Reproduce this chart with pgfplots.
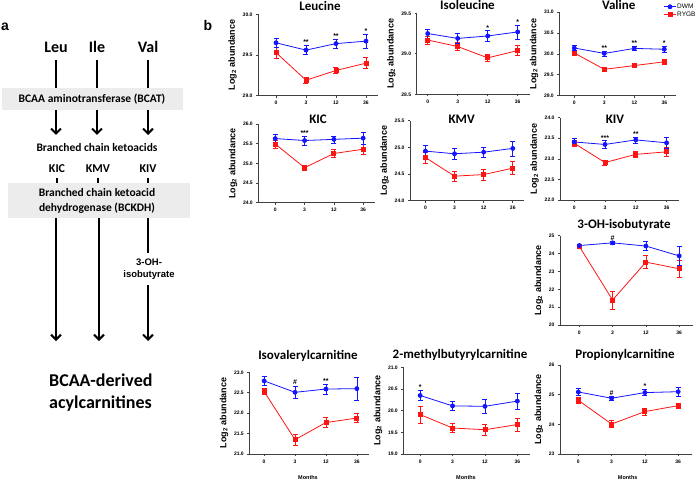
\documentclass[border=0pt]{standalone}
\usepackage{fontspec}
\setmainfont{Liberation Sans}
\newfontfamily\carl{Carlito}
\usepackage{pgfplots}
\pgfplotsset{compat=1.18}
\usetikzlibrary{arrows.meta}
\definecolor{dblue}{RGB}{20,20,255}
\definecolor{rred}{RGB}{255,20,20}
\definecolor{boxgray}{RGB}{236,236,236}
\pgfplotsset{
 gp/.style={
  scale only axis, anchor=north west,
  axis x line=bottom, axis y line=left,
  axis line style={-, line width=0.6pt, black!75},
  xtick={0,1,2,3}, xticklabels={0,3,12,36}, xmax=3.4,
  tick align=outside, major tick length=2pt,
  tick style={line width=0.6pt, black!75},
  ticklabel style={font=\fontsize{5}{6}\selectfont\bfseries},
  /pgf/number format/assume math mode=true,
  yticklabel style={/pgf/number format/.cd, fixed, fixed zerofill, precision=1},
  ylabel={Log\textsubscript{2} abundance},
  ylabel style={font=\fontsize{9}{10}\selectfont\bfseries, yshift=-1pt},
  clip=false,
 },
 gpint/.style={yticklabel style={/pgf/number format/.cd, fixed, precision=0}},
 dwm/.style={color=dblue, line width=0.8pt, mark=*, mark size=2pt, mark options={solid},
   error bars/.cd, y dir=both, y explicit,
   error bar style={line width=0.6pt, color=dblue},
   error mark options={rotate=90, mark size=2.5pt, line width=0.6pt, color=dblue}},
 rygb/.style={color=rred, line width=0.8pt, mark=square*, mark size=2pt, mark options={solid},
   error bars/.cd, y dir=both, y explicit,
   error bar style={line width=0.6pt, color=rred},
   error mark options={rotate=90, mark size=2.5pt, line width=0.6pt, color=rred}},
}
\tikzset{
 star/.style={anchor=south, inner sep=0.3pt, font=\fontsize{7}{7}\selectfont\bfseries},
 ttl/.style={anchor=base, inner sep=0pt, font=\carl\bfseries\fontsize{13}{14}\selectfont},
 mon/.style={anchor=base, inner sep=0pt, font=\fontsize{5.5}{6}\selectfont\bfseries},
 dg/.style={inner sep=0pt, font=\carl\bfseries\fontsize{11.5}{12}\selectfont},
}
\begin{document}
\begin{tikzpicture}[x=1pt,y=1pt]
\useasboundingbox (0,0) rectangle (697,483);

% ---------- Leucine
\begin{axis}[gp, at={(258pt,468.7pt)}, width=120pt, height=81.4pt, xmin=-0.6, ymin=29, ymax=30, ytick={29,29.5,30}]
\addplot[rygb] table[x=x,y=y,y error=e,row sep=\\] {x y e\\ 0 29.53 0.07\\ 1 29.19 0.035\\ 2 29.31 0.04\\ 3 29.40 0.068\\};
\addplot[dwm] table[x=x,y=y,y error=e,row sep=\\] {x y e\\ 0 29.65 0.06\\ 1 29.56 0.057\\ 2 29.64 0.055\\ 3 29.67 0.085\\};
\node[star] at (axis cs:1,29.617) {**};
\node[star] at (axis cs:2,29.695) {**};
\node[star] at (axis cs:3,29.755) {*};
\end{axis}

% ---------- Isoleucine
\begin{axis}[gp, at={(416.7pt,469.7pt)}, width=113pt, height=81pt, xmin=-0.367, ymin=28.5, ymax=29.5, ytick={28.5,29,29.5}]
\addplot[rygb] table[x=x,y=y,y error=e,row sep=\\] {x y e\\ 0 29.17 0.05\\ 1 29.09 0.05\\ 2 28.95 0.048\\ 3 29.04 0.064\\};
\addplot[dwm] table[x=x,y=y,y error=e,row sep=\\] {x y e\\ 0 29.25 0.055\\ 1 29.19 0.058\\ 2 29.22 0.064\\ 3 29.27 0.087\\};
\node[star] at (axis cs:2,29.284) {*};
\node[star] at (axis cs:3,29.357) {*};
\end{axis}

% ---------- Valine
\begin{axis}[gp, at={(559.3pt,471pt)}, width=117pt, height=83.7pt, xmin=-0.5, ymin=29, ymax=31, ytick={29,29.5,30,30.5,31},
  reverse legend, legend cell align=left,
  legend style={at={(0.89,1.11)}, anchor=north west, draw=none, fill=none, inner sep=0pt,
    font=\fontsize{6.5}{7}\selectfont, row sep=0.5pt, nodes={inner sep=0.8pt}},
  legend image code/.code={\draw[mark repeat=2,mark phase=2,#1] plot coordinates {(0pt,0pt) (6pt,0pt) (12pt,0pt)};}]
\addplot[rygb] table[x=x,y=y,y error=e,row sep=\\] {x y e\\ 0 30.02 0.05\\ 1 29.63 0.04\\ 2 29.72 0.035\\ 3 29.81 0.06\\};
\addlegendentry{RYGB}
\addplot[dwm] table[x=x,y=y,y error=e,row sep=\\] {x y e\\ 0 30.14 0.06\\ 1 30.01 0.06\\ 2 30.13 0.05\\ 3 30.11 0.08\\};
\addlegendentry{DWM}
\node[star] at (axis cs:1,30.07) {**};
\node[star] at (axis cs:2,30.18) {**};
\node[star] at (axis cs:3,30.19) {*};
\end{axis}

% ---------- KIC
\begin{axis}[gp, at={(258.3pt,359pt)}, width=116.6pt, height=78.7pt, xmin=-0.58, ymin=24, ymax=26, ytick={24,24.5,25,25.5,26}]
\addplot[rygb] table[x=x,y=y,y error=e,row sep=\\] {x y e\\ 0 25.49 0.1\\ 1 24.89 0.07\\ 2 25.25 0.1\\ 3 25.36 0.12\\};
\addplot[dwm] table[x=x,y=y,y error=e,row sep=\\] {x y e\\ 0 25.63 0.11\\ 1 25.58 0.12\\ 2 25.61 0.09\\ 3 25.64 0.16\\};
\node[star] at (axis cs:1,25.70) {***};
\end{axis}

% ---------- KMV
\begin{axis}[gp, at={(410pt,362.3pt)}, width=114.4pt, height=80pt, xmin=-0.53, ymin=24, ymax=25.5, ytick={24,24.5,25,25.5}]
\addplot[rygb] table[x=x,y=y,y error=e,row sep=\\] {x y e\\ 0 24.81 0.1\\ 1 24.46 0.09\\ 2 24.49 0.1\\ 3 24.61 0.12\\};
\addplot[dwm] table[x=x,y=y,y error=e,row sep=\\] {x y e\\ 0 24.93 0.1\\ 1 24.88 0.1\\ 2 24.91 0.1\\ 3 24.98 0.14\\};
\end{axis}

% ---------- KIV
\begin{axis}[gp, at={(560pt,365.3pt)}, width=118.9pt, height=82.3pt, xmin=-0.46, ymin=22, ymax=24, ytick={22,22.5,23,23.5,24}]
\addplot[rygb] table[x=x,y=y,y error=e,row sep=\\] {x y e\\ 0 23.38 0.07\\ 1 22.91 0.06\\ 2 23.11 0.07\\ 3 23.17 0.11\\};
\addplot[dwm] table[x=x,y=y,y error=e,row sep=\\] {x y e\\ 0 23.41 0.08\\ 1 23.35 0.09\\ 2 23.46 0.07\\ 3 23.39 0.14\\};
\node[star] at (axis cs:1,23.44) {***};
\node[star] at (axis cs:2,23.53) {**};
\end{axis}

% ---------- 3-OH-isobutyrate
\begin{axis}[gp, gpint, at={(560pt,247.3pt)}, width=132.5pt, height=89.3pt, xmin=-0.58, ymin=20, ymax=25, ytick={20,21,22,23,24,25}]
\addplot[rygb] table[x=x,y=y,y error=e,row sep=\\] {x y e\\ 0 24.40 0.07\\ 1 21.40 0.5\\ 2 23.52 0.36\\ 3 23.15 0.5\\};
\addplot[dwm] table[x=x,y=y,y error=e,row sep=\\] {x y e\\ 0 24.45 0.08\\ 1 24.60 0.1\\ 2 24.42 0.25\\ 3 23.87 0.55\\};
\node[star] at (axis cs:1,24.72) {\#};
\end{axis}

% ---------- Isovalerylcarnitine
\begin{axis}[gp, at={(249.3pt,110.7pt)}, width=119.9pt, height=81.7pt, xmin=-0.48, ymin=21, ymax=23, ytick={21,21.5,22,22.5,23}]
\addplot[rygb] table[x=x,y=y,y error=e,row sep=\\] {x y e\\ 0 22.53 0.07\\ 1 21.35 0.13\\ 2 21.77 0.12\\ 3 21.88 0.11\\};
\addplot[dwm] table[x=x,y=y,y error=e,row sep=\\] {x y e\\ 0 22.79 0.11\\ 1 22.51 0.15\\ 2 22.59 0.12\\ 3 22.60 0.28\\};
\node[star] at (axis cs:1,22.69) {\#};
\node[star] at (axis cs:2,22.72) {**};
\end{axis}

% ---------- 2-methylbutyrylcarnitine
\begin{axis}[gp, at={(403.3pt,115.7pt)}, width=127pt, height=86.7pt, xmin=-0.52, ymin=19, ymax=21, ytick={19,19.5,20,20.5,21}]
\addplot[rygb] table[x=x,y=y,y error=e,row sep=\\] {x y e\\ 0 19.91 0.2\\ 1 19.60 0.11\\ 2 19.56 0.12\\ 3 19.68 0.15\\};
\addplot[dwm] table[x=x,y=y,y error=e,row sep=\\] {x y e\\ 0 20.35 0.11\\ 1 20.11 0.11\\ 2 20.10 0.17\\ 3 20.22 0.18\\};
\node[star] at (axis cs:0,20.47) {*};
\end{axis}

% ---------- Propionylcarnitine
\begin{axis}[gp, gpint, at={(560pt,118pt)}, width=131.5pt, height=89pt, xmin=-0.55, ymin=23, ymax=26, ytick={23,24,25,26}]
\addplot[rygb] table[x=x,y=y,y error=e,row sep=\\] {x y e\\ 0 24.81 0.1\\ 1 24.01 0.11\\ 2 24.43 0.12\\ 3 24.63 0.09\\};
\addplot[dwm] table[x=x,y=y,y error=e,row sep=\\] {x y e\\ 0 25.09 0.12\\ 1 24.88 0.08\\ 2 25.07 0.1\\ 3 25.10 0.14\\};
\node[star] at (axis cs:1,24.97) {\#};
\node[star] at (axis cs:2,25.18) {*};
\end{axis}

% ---------- annotations (y measured downward)
\begin{scope}[shift={(0,483)}, y=-1pt]
\node[ttl] at (320,10.7) {Leucine};
\node[ttl] at (467.5,10) {Isoleucine};
\node[ttl] at (618.7,10) {Valine};
\node[ttl] at (318,123.3) {KIC};
\node[ttl] at (461.7,123.3) {KMV};
\node[ttl] at (615,124) {KIV};
\node[ttl] at (624,228.3) {3-OH-isobutyrate};
\node[ttl] at (308,359) {Isovalerylcarnitine};
\node[ttl] at (460,358.3) {2-methylbutyrylcarnitine};
\node[ttl] at (625,358.3) {Propionylcarnitine};
\node[mon] at (308,479) {Months};
\node[mon] at (466,479) {Months};
\node[mon] at (627.7,479) {Months};
\node[font=\fontsize{14}{14}\selectfont\bfseries] at (208,25) {b};
\node[font=\fontsize{14}{14}\selectfont\bfseries] at (5,27) {a};

% panel a diagram
\node[inner sep=0pt, font=\carl\bfseries\fontsize{16}{16}\selectfont] at (56,47) {Leu};
\node[inner sep=0pt, font=\carl\bfseries\fontsize{16}{16}\selectfont] at (97,47) {Ile};
\node[inner sep=0pt, font=\carl\bfseries\fontsize{16}{16}\selectfont] at (148,47) {Val};
\begin{scope}[line width=2pt]
\draw (56,60) -- (56,88);
\draw (97,60) -- (97,88);
\draw (148,60) -- (148,88);
\end{scope}
\fill[boxgray] (2,88) rectangle (183,110);
\node[dg] at (92,99) {BCAA aminotransferase (BCAT)};
\begin{scope}[line width=2pt, -{Straight Barb[length=5pt,width=10pt]}]
\draw (56,110) -- (56,135);
\draw (97,110) -- (97,135);
\draw (148,110) -- (148,135);
\end{scope}
\node[dg] at (97,148) {Branched chain ketoacids};
\node[inner sep=0pt, font=\carl\bfseries\fontsize{12}{12}\selectfont] at (57,169) {KIC};
\node[inner sep=0pt, font=\carl\bfseries\fontsize{12}{12}\selectfont] at (98,169) {KMV};
\node[inner sep=0pt, font=\carl\bfseries\fontsize{12}{12}\selectfont] at (148,169) {KIV};
\begin{scope}[line width=2pt]
\draw (57,178) -- (57,183);
\draw (98,178) -- (98,183);
\draw (148,178) -- (148,183);
\end{scope}
\fill[boxgray] (8,183) rectangle (190,218);
\node[dg] at (97,193) {Branched chain ketoacid};
\node[dg] at (97,208) {dehydrogenase (BCKDH)};
\begin{scope}[line width=2pt, -{Straight Barb[length=5pt,width=10pt]}]
\draw (56,218) -- (56,341);
\draw (99,218) -- (99,341);
\draw (148,285) -- (148,341);
\end{scope}
\draw[line width=2pt] (148,218) -- (148,253);
\node[inner sep=0pt, font=\fontsize{9.5}{10}\selectfont\bfseries] at (149,262.5) {3-OH-};
\node[inner sep=0pt, font=\fontsize{9.5}{10}\selectfont\bfseries] at (149,275) {isobutyrate};
\node[anchor=base west, inner sep=0pt, font=\carl\bfseries\fontsize{18}{18}\selectfont] at (49,386) {BCAA-derived};
\node[anchor=base west, inner sep=0pt, font=\carl\bfseries\fontsize{18}{18}\selectfont] at (49,408) {acylcarnitines};
\end{scope}
\end{tikzpicture}
\end{document}
